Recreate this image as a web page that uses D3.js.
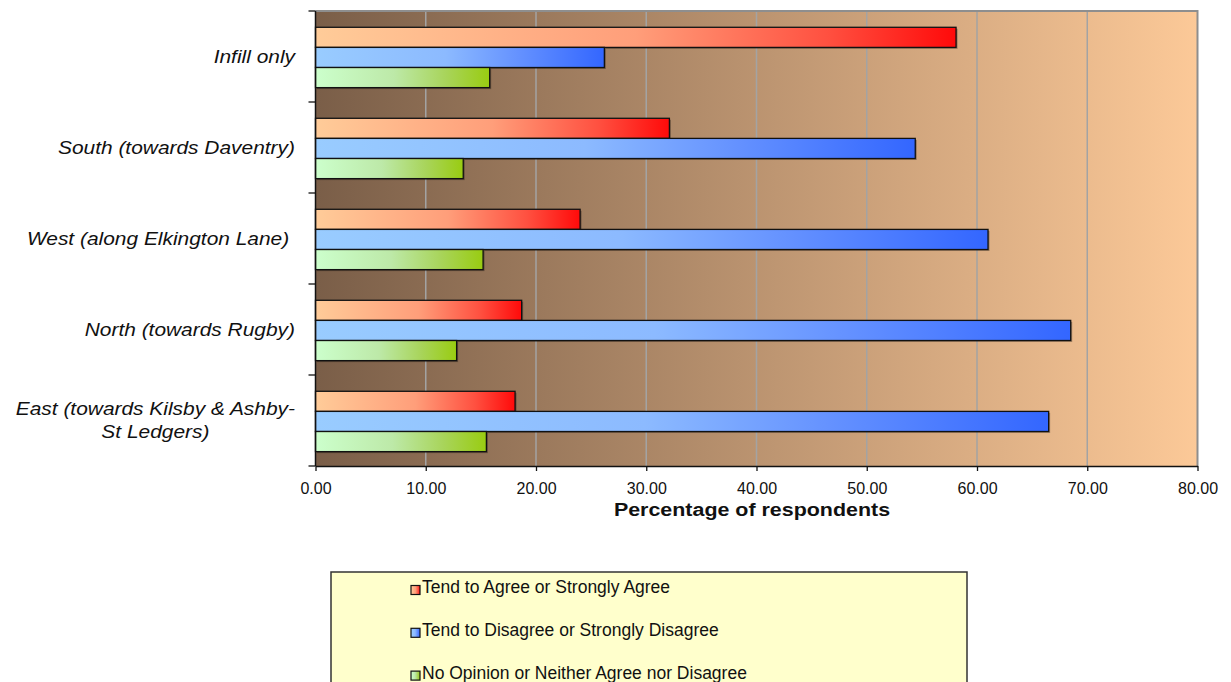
<!DOCTYPE html>
<html>
<head>
<meta charset="utf-8">
<script src="https://cdn.jsdelivr.net/npm/d3@7"></script>
<style>
  body { margin: 0; background: #fff; }
  svg { display: block; font-family: "Liberation Sans", Arial, sans-serif; }
</style>
</head>
<body>
<svg id="chart" width="1231" height="682"></svg>
<script>
// data
const categories = ["Infill only", "South (towards Daventry)", "West (along Elkington Lane) ",
  "North (towards Rugby)", "East (towards Kilsby & Ashby-\nSt Ledgers)"];
const agree = [58.1, 32.1, 24.0, 18.7, 18.1];
const disagree = [26.2, 54.4, 61.0, 68.5, 66.5];
const noOpinion = [15.8, 13.4, 15.2, 12.8, 15.5];
const seriesNames = ["Tend to Agree or Strongly Agree", "Tend to Disagree or Strongly Disagree",
  "No Opinion or Neither Agree nor Disagree"];
const xTicks = [0, 10, 20, 30, 40, 50, 60, 70, 80];
const xTitle = "Percentage of respondents";

const series = [
  { key: "agree", name: seriesNames[0], values: agree,
    stops: [[0, "#ffcc99"], [0.5, "#ff9e7a"], [0.8, "#ff5040"], [1, "#ff0a0a"]] },
  { key: "disagree", name: seriesNames[1], values: disagree,
    stops: [[0, "#99ccff"], [0.45, "#8cbaff"], [0.7, "#6592ff"], [1, "#3366ff"]] },
  { key: "noop", name: seriesNames[2], values: noOpinion,
    stops: [[0, "#ccffcc"], [0.45, "#bde9a8"], [0.75, "#a8d45a"], [1, "#99cc11"]] }
];

const svg = d3.select("#chart");
const defs = svg.append("defs");

// plot area
const pLeft = 315.5, pRight = 1197.5, pTop = 11, pBottom = 466;

let bg = defs.append("linearGradient").attr("id", "bg").attr("x1", 0).attr("x2", 1).attr("y1", 0).attr("y2", 0);
bg.append("stop").attr("offset", 0).attr("stop-color", "#7a5e48");
bg.append("stop").attr("offset", 1).attr("stop-color", "#fcc998");

series.forEach(s => {
  let g = defs.append("linearGradient").attr("id", "grad-" + s.key)
    .attr("x1", 0).attr("x2", 1).attr("y1", 0).attr("y2", 0);
  s.stops.forEach(st => g.append("stop").attr("offset", st[0]).attr("stop-color", st[1]));
});

let x = d3.scaleLinear().domain([0, 80]).range([pLeft, pRight]);
let y = d3.scaleBand().domain(categories).range([pTop, pBottom]).padding(0);
let inner = d3.scaleBand().domain(series.map(s => s.key))
  .range([y.bandwidth() * 0.179, y.bandwidth() * 0.842]).padding(0);

svg.append("rect").attr("x", pLeft).attr("y", pTop)
  .attr("width", pRight - pLeft).attr("height", pBottom - pTop).attr("fill", "url(#bg)");

// grid
svg.append("g").selectAll("line")
  .data(xTicks.filter(d => d > 0 && d < 80))
  .join("line")
  .attr("x1", d => x(d)).attr("x2", d => x(d))
  .attr("y1", pTop).attr("y2", pBottom)
  .attr("stroke", "#a3a3a3").attr("stroke-width", 1.5);

// top & right border
svg.append("path")
  .attr("d", `M${pLeft},${pTop}H${pRight}V${pBottom}`)
  .attr("fill", "none").attr("stroke", "#8e8e8e").attr("stroke-width", 2);

// bars
let rows = [];
categories.forEach((c, i) => {
  series.forEach(s => rows.push({ cat: c, key: s.key, v: s.values[i] }));
});

let barG = svg.append("g");
barG.selectAll("rect.shadow")
  .data(rows)
  .join("rect")
  .attr("class", "shadow")
  .attr("x", x(0) + 1.5)
  .attr("y", d => y(d.cat) + inner(d.key) + 1.5)
  .attr("width", d => x(d.v) - x(0))
  .attr("height", inner.bandwidth())
  .attr("fill", "rgba(0,0,0,0.3)");

barG.selectAll("rect.bar")
  .data(rows)
  .join("rect")
  .attr("class", "bar")
  .attr("x", x(0))
  .attr("y", d => y(d.cat) + inner(d.key))
  .attr("width", d => x(d.v) - x(0))
  .attr("height", inner.bandwidth())
  .attr("fill", d => "url(#grad-" + d.key + ")")
  .attr("stroke", "#111")
  .attr("stroke-width", 1.3);

// x axis
let xAxis = svg.append("g").attr("transform", `translate(0,${pBottom})`)
  .call(d3.axisBottom(x).tickValues(xTicks).tickFormat(d3.format(".2f")).tickSize(5).tickSizeOuter(0));
xAxis.select(".domain").attr("stroke", "#111").attr("stroke-width", 1.5);
xAxis.selectAll(".tick line").attr("stroke", "#111").attr("stroke-width", 1.3);
xAxis.selectAll(".tick text")
  .attr("y", 0).attr("dy", null)
  .attr("transform", "translate(0,28)")
  .attr("font-size", 16).attr("fill", "#111")
  .attr("font-family", "'Liberation Sans', Arial, sans-serif");

// y axis line + ticks at category edges
svg.append("line").attr("x1", pLeft).attr("x2", pLeft).attr("y1", pTop).attr("y2", pBottom)
  .attr("stroke", "#111").attr("stroke-width", 1.5);
let edges = categories.map(c => y(c)).concat([pBottom]);
svg.append("g").selectAll("line").data(edges).join("line")
  .attr("x1", pLeft - 7).attr("x2", pLeft).attr("y1", d => d).attr("y2", d => d)
  .attr("stroke", "#111").attr("stroke-width", 1.3);

// stretch text horizontally like the original rendering
function stretch(sel, k) {
  sel.each(function() {
    let w = this.getComputedTextLength();
    d3.select(this).attr("textLength", w * k).attr("lengthAdjust", "spacingAndGlyphs");
  });
}

// category labels
const kLab = 1.13, lineH = 23.5;
categories.forEach(c => {
  let lines = c.split("\n");
  let cy = y(c) + y.bandwidth() / 2;
  let g = svg.append("g");
  let texts = g.selectAll("text").data(lines).join("text")
    .attr("y", (d, j) => cy + 6 + (j - (lines.length - 1) / 2) * lineH)
    .attr("text-anchor", "middle")
    .attr("font-size", 18.5).attr("font-style", "italic").attr("fill", "#111")
    .style("white-space", "pre")
    .text(d => d);
  let maxW = 0;
  texts.each(function() { maxW = Math.max(maxW, this.getComputedTextLength() * kLab); });
  texts.attr("x", 295 - maxW / 2);
  stretch(texts, kLab);
});

// axis title
let title = svg.append("text")
  .attr("x", 752).attr("y", 516)
  .attr("text-anchor", "middle")
  .attr("font-size", 18).attr("font-weight", "bold").attr("fill", "#111")
  .text(xTitle);
stretch(title, 1.19);

// legend
let leg = svg.append("g");
leg.append("rect").attr("x", 331).attr("y", 572).attr("width", 636).attr("height", 130)
  .attr("fill", "#ffffcc").attr("stroke", "#333").attr("stroke-width", 1.5);
let items = leg.selectAll("g.item").data(series).join("g").attr("class", "item")
  .attr("transform", (d, i) => `translate(0,${i * 42.8})`);
items.append("rect").attr("x", 411).attr("y", 585.5).attr("width", 9).attr("height", 9)
  .attr("fill", d => "url(#grad-" + d.key + ")").attr("stroke", "#111").attr("stroke-width", 1.2);
items.append("text").attr("x", 422).attr("y", 593.3)
  .attr("font-size", 17.5).attr("fill", "#111")
  .text(d => d.name);
</script>
</body>
</html>
